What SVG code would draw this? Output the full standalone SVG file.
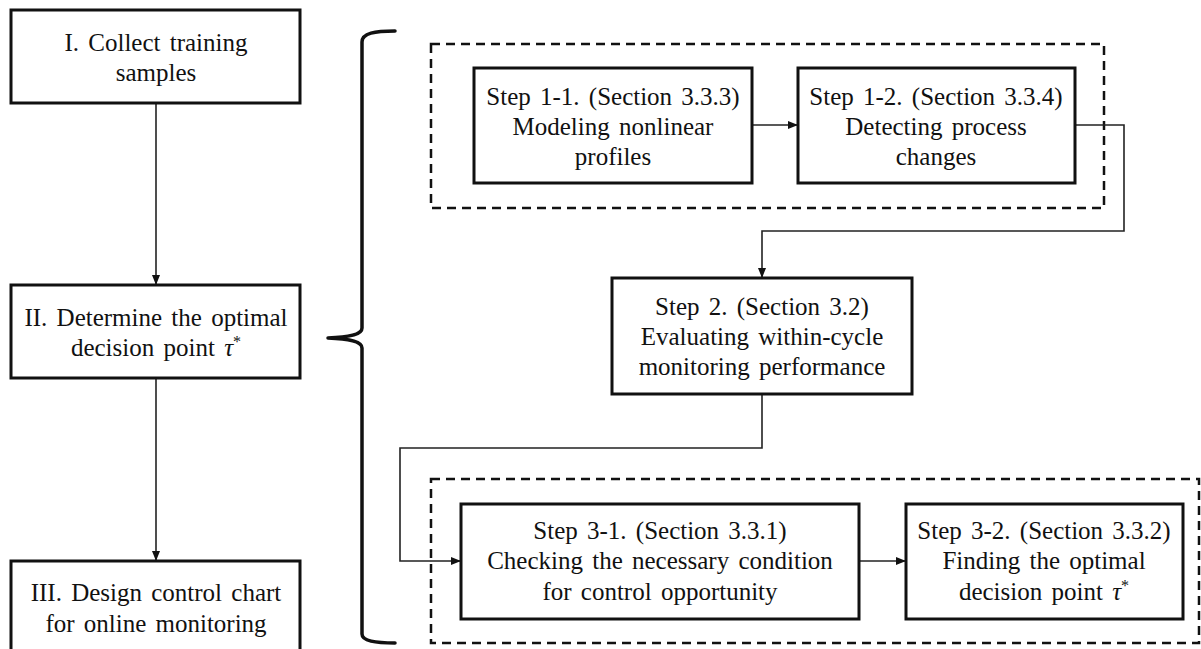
<svg xmlns="http://www.w3.org/2000/svg" width="1201" height="649" viewBox="0 0 1201 649">
  <style>
    .box { fill: #fff; stroke: #111; stroke-width: 3; }
    .group { fill: none; stroke: #111; stroke-width: 2.5; stroke-dasharray: 9 6; }
    .link { fill: none; stroke: #222; stroke-width: 1.6; }
    .brace { fill: none; stroke: #111; stroke-width: 3.5; stroke-linecap: round; stroke-linejoin: round; }
    text { font-family: "Liberation Serif", serif; font-size: 25px; fill: #111; text-anchor: middle; word-spacing: 3px; }
    .sup { font-size: 16px; }
  </style>
  <defs>
    <marker id="arrow" viewBox="0 0 10 10" refX="10" refY="5" markerWidth="10" markerHeight="10" markerUnits="userSpaceOnUse" orient="auto">
      <path d="M0,1 L10,5 L0,9 Z" fill="#111"/>
    </marker>
  </defs>

  <rect width="1201" height="649" fill="#fff"/>

  <!-- dashed grouping frames -->
  <rect class="group" x="431" y="44" width="673" height="164"/>
  <rect class="group" x="431" y="479" width="768" height="164"/>

  <!-- curly brace spanning the three sub-step groups -->
  <path class="brace" d="M395,31 C375,31 362,33 362,42 L362,328 C362,334 352,337 328,338 C352,339 362,342 362,348 L362,634 C362,641 375,643 395,643"/>

  <!-- connectors -->
  <g id="connectors">
    <path class="link" d="M156,103 L156,285" marker-end="url(#arrow)"/>
    <path class="link" d="M156,378 L156,561" marker-end="url(#arrow)"/>
    <path class="link" d="M752,125 L798,125" marker-end="url(#arrow)"/>
    <path class="link" d="M1075,125 L1124,125 L1124,231 L762,231 L762,278" marker-end="url(#arrow)"/>
    <path class="link" d="M762,394 L762,448 L400,448 L400,561 L461,561" marker-end="url(#arrow)"/>
    <path class="link" d="M859,561 L906,561" marker-end="url(#arrow)"/>
  </g>

  <g id="stage1">
    <rect class="box" x="11" y="10" width="289" height="93"/>
    <text x="156" y="51">I. Collect training</text>
    <text x="156" y="81">samples</text>
  </g>

  <g id="stage2">
    <rect class="box" x="11" y="285" width="289" height="93"/>
    <text x="156" y="326">II. Determine the optimal</text>
    <text x="156" y="356">decision point <tspan font-style="italic">τ</tspan><tspan class="sup" dy="-9">*</tspan></text>
  </g>

  <g id="stage3">
    <rect class="box" x="11" y="561" width="289" height="93"/>
    <text x="156" y="601">III. Design control chart</text>
    <text x="156" y="632">for online monitoring</text>
  </g>

  <g id="step1-1">
    <rect class="box" x="474" y="68" width="278" height="115"/>
    <text x="613" y="105">Step 1-1. (Section 3.3.3)</text>
    <text x="613" y="135">Modeling nonlinear</text>
    <text x="613" y="165">profiles</text>
  </g>

  <g id="step1-2">
    <rect class="box" x="798" y="68" width="277" height="115"/>
    <text x="936" y="105">Step 1-2. (Section 3.3.4)</text>
    <text x="936" y="135">Detecting process</text>
    <text x="936" y="165">changes</text>
  </g>

  <g id="step2">
    <rect class="box" x="612" y="278" width="300" height="116"/>
    <text x="762" y="315">Step 2. (Section 3.2)</text>
    <text x="762" y="345">Evaluating within-cycle</text>
    <text x="762" y="375">monitoring performance</text>
  </g>

  <g id="step3-1">
    <rect class="box" x="461" y="504" width="398" height="115"/>
    <text x="660" y="539">Step 3-1. (Section 3.3.1)</text>
    <text x="660" y="569">Checking the necessary condition</text>
    <text x="660" y="600">for control opportunity</text>
  </g>

  <g id="step3-2">
    <rect class="box" x="906" y="504" width="277" height="115"/>
    <text x="1044" y="539">Step 3-2. (Section 3.3.2)</text>
    <text x="1044" y="569">Finding the optimal</text>
    <text x="1044" y="600">decision point <tspan font-style="italic">τ</tspan><tspan class="sup" dy="-9">*</tspan></text>
  </g>
</svg>
